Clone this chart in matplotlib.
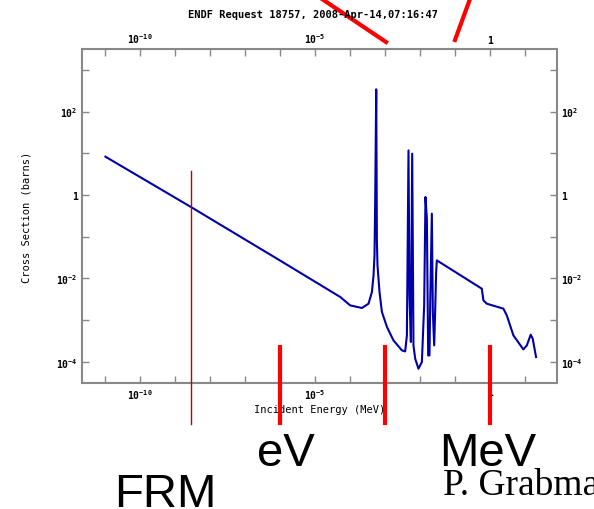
import numpy as np
import matplotlib
matplotlib.use('Agg')
import matplotlib.pyplot as plt
from matplotlib import ticker, transforms
from matplotlib.lines import Line2D

# === Cross section (MeV, barns) ===
energy = [
    1.03e-11, 2.77e-9, 1.03e-6, 5.35e-5, 1.03e-4, 2.23e-4, 3.44e-4, 4.31e-4,
    4.79e-4, 5.11e-4, 5.35e-4, 5.72e-4, 5.98e-4, 6.22e-4, 7.10e-4, 8.32e-4,
    1.16e-3, 1.78e-3, 3.10e-3, 3.85e-3, 4.31e-3, 4.79e-3, 5.11e-3, 5.61e-3,
    6.11e-3, 6.65e-3, 7.44e-3, 9.24e-3, 1.156e-2, 1.345e-2, 1.466e-2, 1.607e-2,
    1.75e-2, 1.91e-2, 1.995e-2, 2.23e-2, 2.38e-2, 2.60e-2, 2.77e-2, 2.96e-2,
    3.10e-2, 0.598, 0.665, 0.832, 2.48, 3.10, 4.79, 9.24, 11.6, 15.0, 17.1, 21.3,
]
sigma = [
    8.28, 0.524, 2.66e-2, 3.58e-3, 2.25e-3, 1.95e-3, 2.47e-3, 4.72e-3,
    1.18e-2, 3.56e-2, 0.815, 341.0, 7.59e-2, 2.05e-2, 4.72e-3, 1.56e-3,
    6.84e-4, 3.26e-4, 1.88e-4, 1.77e-4, 4.29e-4, 11.7, 3.91e-3, 2.98e-4,
    9.78, 2.47e-4, 1.19e-4, 6.83e-5, 9.88e-5, 2.25e-3, 0.895, 0.270,
    1.42e-4, 1.42e-4, 2.25e-3, 0.356, 1.56e-3, 2.47e-4, 1.56e-3, 1.42e-2,
    2.70e-2, 5.66e-3, 2.97e-3, 2.47e-3, 1.88e-3, 1.30e-3, 4.30e-4, 1.98e-4,
    2.47e-4, 4.47e-4, 3.58e-4, 1.30e-4,
]

xtick_vals = [1e-10, 1e-5, 1.0]
xtick_labels = ['10$^{-10}$', '10$^{-5}$', '1']
ytick_vals = [1e-4, 1e-2, 1.0, 1e2]
ytick_labels = ['10$^{-4}$', '10$^{-2}$', '1', '10$^{2}$']

# red hand-drawn markers on the slide (energy in MeV)
thin_marker = 2.8e-9
thick_markers = [1e-6, 1e-3, 1.0]

mono = 'DejaVu Sans Mono'
plt.rcParams['font.family'] = mono
plt.rcParams['font.weight'] = 'bold'
plt.rcParams['mathtext.fontset'] = 'custom'
plt.rcParams['mathtext.rm'] = 'DejaVu Sans Mono:bold'
plt.rcParams['mathtext.default'] = 'rm'

fig = plt.figure(figsize=(5.94, 5.10), dpi=100)
ax = fig.add_axes([82 / 594, 1 - 384 / 510, (556.7 - 82) / 594, (384 - 50) / 510])

ax.loglog(energy, sigma, color='#0000aa', lw=1.5)
ax.set_xlim(2.2e-12, 83)
ax.set_ylim(3.1e-5, 3162)

ax.xaxis.set_major_locator(ticker.FixedLocator(xtick_vals))
ax.xaxis.set_major_formatter(ticker.FixedFormatter(xtick_labels))
ax.xaxis.set_minor_locator(ticker.LogLocator(base=10, subs=(1.0,), numticks=40))
ax.xaxis.set_minor_formatter(ticker.NullFormatter())
ax.yaxis.set_major_locator(ticker.FixedLocator(ytick_vals))
ax.yaxis.set_major_formatter(ticker.FixedFormatter(ytick_labels))
ax.yaxis.set_minor_locator(ticker.LogLocator(base=10, subs=(1.0,), numticks=40))
ax.yaxis.set_minor_formatter(ticker.NullFormatter())

ax.tick_params(which='both', direction='in', length=5, width=1, color='#888888',
               top=True, right=True, labeltop=True, labelright=True,
               labelsize=7, pad=3)
for s in ax.spines.values():
    s.set_color('#888888')
    s.set_linewidth(1.5)

ax.set_xlabel('Incident Energy (MeV)', fontsize=7.5, labelpad=2)
ax.set_ylabel('Cross Section (barns)', fontsize=7.5, labelpad=18)
fig.text(313 / 594, 1 - 15 / 510, 'ENDF Request 18757, 2008-Apr-14,07:16:47',
         ha='center', va='center', fontsize=7.5)

# slide annotations
blend = transforms.blended_transform_factory(ax.transData, fig.transFigure)
fig.add_artist(Line2D([thin_marker, thin_marker], [1 - 172 / 510, 1 - 425 / 510],
                      transform=blend, color='#c00000', lw=1.0, clip_on=False))
for e in thick_markers:
    fig.add_artist(Line2D([e, e], [1 - 348 / 510, 1 - 424 / 510],
                          transform=blend, color='red', lw=3, clip_on=False))
fig.add_artist(Line2D([322 / 594, 386 / 594], [1.0, 1 - 43 / 510],
                      transform=fig.transFigure, color='red', lw=3))
fig.add_artist(Line2D([470 / 594, 455 / 594], [1.0, 1 - 41 / 510],
                      transform=fig.transFigure, color='red', lw=3))

sans = 'Liberation Sans'
fig.text(286 / 594, 1 - 466 / 510, 'eV', family=sans, fontweight='normal',
         fontsize=34, ha='center', va='baseline')
fig.text(488 / 594, 1 - 466 / 510, 'MeV', family=sans, fontweight='normal',
         fontsize=34, ha='center', va='baseline')
fig.text(165 / 594, 1 - 507 / 510, 'FRM', family=sans, fontweight='normal',
         fontsize=34, ha='center', va='baseline')
fig.text(443 / 594, 1 - 495 / 510, 'P. Grabmann', family='Liberation Serif',
         fontweight='normal', fontsize=27, ha='left', va='baseline')

fig.savefig('out.png', dpi=100)
